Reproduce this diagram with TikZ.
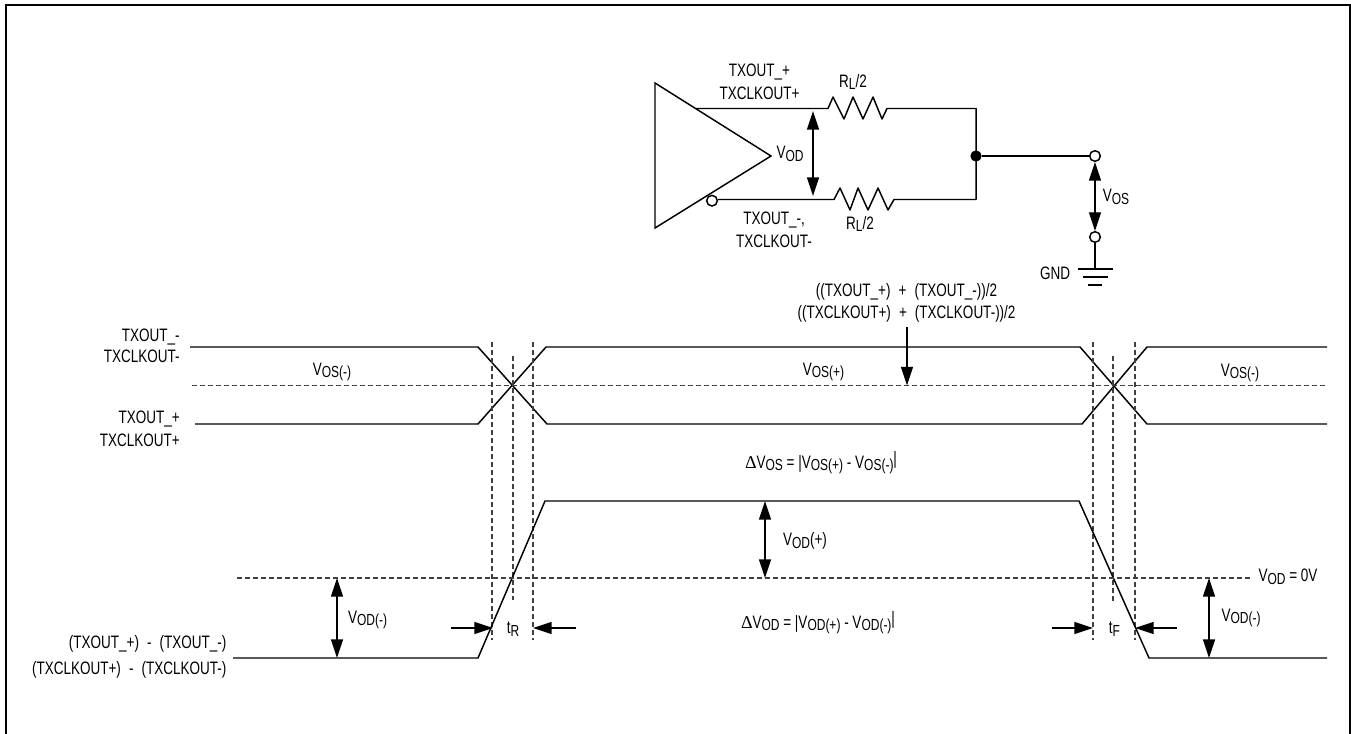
\documentclass[tikz,border=0pt]{standalone}
\usepackage{fontspec}
\setmainfont[FakeStretch=0.75]{Liberation Sans}
\newfontfamily\symf{Liberation Serif}
\usetikzlibrary{arrows.meta}
\newcommand\lo[1]{\raisebox{-.28ex}{\fontsize{12pt}{12pt}\selectfont #1}}
\newcommand\rbar{\raisebox{.35ex}{|}}
\newcommand\wsp{\spaceskip=.45em\relax}
\tikzset{
  x=0.75pt,y=-0.75pt,
  wire/.style={line width=1.1pt,black},
  dbl/.style={line width=1.1pt,{Triangle[length=14pt,width=9pt]}-{Triangle[length=14pt,width=9pt]},shorten <=0pt,shorten >=0pt},
  sgl/.style={line width=1.1pt,-{Triangle[length=14pt,width=9pt]}},
  dashline/.style={line width=.8pt,dash pattern=on 3.75pt off 2.25pt,black!75},
  txt/.style={font={\fontsize{13.5pt}{17pt}\selectfont},inner sep=0pt,align=center},
  txtr/.style={txt,align=right,anchor=east},
  opencirc/.style={circle,draw,line width=1.1pt,fill=white,minimum size=8pt,inner sep=0pt},
  dotc/.style={circle,fill=black,minimum size=8.5pt,inner sep=0pt},
}
\begin{document}
\begin{tikzpicture}
\useasboundingbox (0,0) rectangle (1351,734);
\node[draw,line width=1.7pt,minimum width=1008pt,minimum height=555pt,inner sep=0pt] (frame) at (678,375) {};
% circuit
\draw[wire,line join=miter] (655,83) coordinate (ta) -- (771,156) coordinate (tip) -- (655,228) coordinate (tb) -- cycle;
\coordinate (w1) at (696,108.5);
\coordinate (r1a) at (828,108.5);
\coordinate (c1) at (976,108.5);
\coordinate (c2) at (976,199.5);
\coordinate (r2a) at (834,199.5);
\node[dotc] (jn) at (976,156) {};
\node[opencirc] (bub) at (712,200.7) {};
\node[opencirc] (o1) at (1095,156) {};
\node[opencirc] (o2) at (1095,237) {};
\draw[wire,line join=round] (w1) -- (r1a) -- (833,97) -- (844,119) -- (853,97) -- (863,119) -- (873,97) -- (882,119) -- (887,108.5) -- (c1) -- (c2) -- (894,199.5) -- (888,210) -- (878,188) -- (868,210) -- (858,188) -- (850,210) -- (840,188) -- (r2a) -- (bub.east |- r2a);
\draw[wire] (jn) -- (o1);
\draw[dbl] (813,111) coordinate (va) -- (813,196) coordinate (vb);
\draw[dbl] (o1) -- (o2);
\coordinate (g0) at (1095,269);
\draw[wire] (o2) -- (g0);
\draw[wire] (1078,269) coordinate (g1a) -- (1113,269) coordinate (g1b);
\draw[wire] (1083,277) coordinate (g2a) -- (1108,277) coordinate (g2b);
\draw[wire] (1088,285) coordinate (g3a) -- (1102,285) coordinate (g3b);
\node[txt] (l1) at (759.5,81.5) {TXOUT\_+\\TXCLKOUT+};
\node[txt] (l2) at (853,82) {R\lo{L}/2};
\node[txt] (l3) at (774,229.5) {TXOUT\_-,\\TXCLKOUT-};
\node[txt] (l4) at (860,224) {R\lo{L}/2};
\node[txt] (l5) at (790,154) {V\lo{OD}};
\node[txt] (l6) at (1116,197) {V\lo{OS}};
\node[txt] (l7) at (1055,273) {GND};
\node[txt] (l8) at (906.5,303) {\wsp ((TXOUT\_+) + (TXOUT\_-))/2\\\wsp ((TXCLKOUT+) + (TXCLKOUT-))/2};
% timing upper
\coordinate (u0) at (190,347); \coordinate (u1) at (478,347); \coordinate (u2) at (547,424);
\coordinate (u3) at (1082,424); \coordinate (u4) at (1147,347); \coordinate (u5) at (1327,347);
\coordinate (m0) at (195,424); \coordinate (m1) at (478,424); \coordinate (m2) at (546,347);
\coordinate (m3) at (1080,347); \coordinate (m4) at (1147,424); \coordinate (m5) at (1327,424);
\draw[wire] (u0) -- (u1) -- (u2) -- (u3) -- (u4) -- (u5);
\draw[wire] (m0) -- (m1) -- (m2) -- (m3) -- (m4) -- (m5);
\coordinate (h0) at (192,385.5); \coordinate (h1) at (1325,385.5);
\draw[dashline] (h0) -- (h1);
\foreach \n/\x/\a/\b in {d1/492/342/640,d2/513/356/600,d3/533/342/640,d4/1093/342/640,d5/1113/356/603,d6/1135/342/640}{
  \draw[dashline] (\x,\a) coordinate (\n a) -- (\x,\b) coordinate (\n b);
}
% timing lower
\coordinate (b0) at (233,658); \coordinate (b1) at (478,658); \coordinate (b2) at (545,501);
\coordinate (b3) at (1079,501); \coordinate (b4) at (1149,658); \coordinate (b5) at (1327,658);
\draw[wire] (b0) -- (b1) -- (b2) -- (b3) -- (b4) -- (b5);
\coordinate (z0) at (237,578); \coordinate (z1) at (1250,578);
\draw[dashline] (z0) -- (z1);
\draw[dbl] (765,501) coordinate (p1) -- (765,578) coordinate (p2);
\draw[dbl] (337,578) coordinate (p3) -- (337,658) coordinate (p4);
\draw[dbl] (1209,578) coordinate (p5) -- (1209,658) coordinate (p6);
\draw[sgl] (907,327) coordinate (q1) -- (907,385.5) coordinate (q2);
\draw[sgl] (451,628) coordinate (a1) -- (493,628) coordinate (a2);
\draw[sgl] (576,628) coordinate (a3) -- (533,628) coordinate (a4);
\draw[sgl] (1052,628) coordinate (a5) -- (1093,628) coordinate (a6);
\draw[sgl] (1177,628) coordinate (a7) -- (1135,628) coordinate (a8);
\node[txtr,font={\fontsize{13.5pt}{16pt}\selectfont}] (t1) at (180,345.5) {TXOUT\_-\\TXCLKOUT-};
\node[txtr] (t2) at (180,428.5) {TXOUT\_+\\TXCLKOUT+};
\node[txt] (t3) at (332,372) {V\lo{OS(-)}};
\node[txt] (t4) at (823.5,372) {V\lo{OS(+)}};
\node[txt] (t5) at (1240,373) {V\lo{OS(-)}};
\node[txt] (t6) at (821,463) {{\symf Δ}V\lo{OS} = |V\lo{OS(+)} - V\lo{OS(-)}\rbar};
\node[txt] (t7) at (818,623) {{\symf Δ}V\lo{OD} = |V\lo{OD(+)} - V\lo{OD(-)}\rbar};
\node[txt] (t8) at (805,541) {V\lo{OD}(+)};
\node[txt] (t9) at (367.5,620) {V\lo{OD(-)}};
\node[txt] (t10) at (1241,618) {V\lo{OD(-)}};
\node[txt] (t11) at (1288,577) {V\lo{OD} = 0V};
\node[txt] (t12) at (513,629) {t\lo{R}};
\node[txt] (t13) at (1114.5,629) {t\lo{F}};
\node[txtr,font={\fontsize{13.5pt}{20pt}\selectfont}] (t14) at (226.7,657) {\wsp (TXOUT\_+) - (TXOUT\_-)\\\wsp (TXCLKOUT+) - (TXCLKOUT-)};
\end{tikzpicture}
\end{document}
